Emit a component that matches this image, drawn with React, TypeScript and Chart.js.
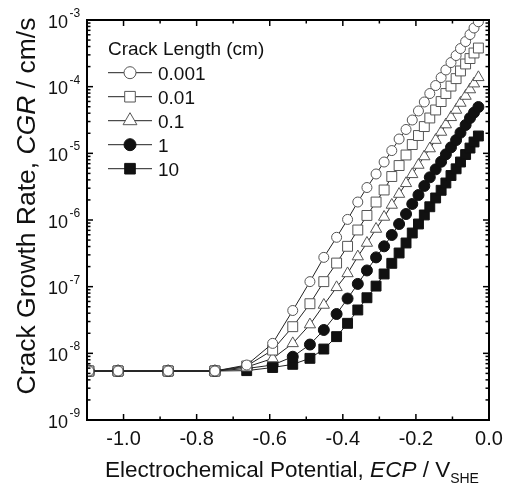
import React, { useEffect, useRef } from 'react';
import { Chart, registerables } from 'chart.js';

Chart.register(...registerables);

// Electrochemical potential (V_SHE) shared by all series
const potentialV = [
  -1.095, -1.015, -0.878, -0.75, -0.663, -0.592, -0.537, -0.49, -0.452, -0.417,
  -0.387, -0.359, -0.334, -0.309, -0.287, -0.266, -0.246, -0.227, -0.21, -0.193,
  -0.177, -0.162, -0.146, -0.131, -0.118, -0.104, -0.09, -0.078, -0.064, -0.052,
  -0.041, -0.029,
];

// Crack growth rate (cm/s) for each crack length
const cgr0001 = [
  5.43e-9, 5.43e-9, 5.43e-9, 5.43e-9, 6.68e-9, 1.41e-8, 4.39e-8, 1.19e-7, 2.75e-7, 5.5e-7,
  1.02e-6, 1.86e-6, 3.07e-6, 4.9e-6, 7.41e-6, 1.1e-5, 1.64e-5, 2.28e-5, 3.16e-5, 4.32e-5,
  5.89e-5, 7.89e-5, 1.04e-4, 1.37e-4, 1.78e-4, 2.3e-4, 2.93e-4, 3.73e-4, 4.75e-4, 6.05e-4,
  7.59e-4, 9.42e-4,
];
const cgr001 = [
  5.43e-9, 5.43e-9, 5.43e-9, 5.43e-9, 6.46e-9, 1.12e-8, 2.51e-8, 5.55e-8, 1.19e-7, 2.26e-7,
  4.03e-7, 7.08e-7, 1.17e-6, 1.86e-6, 2.82e-6, 4.49e-6, 6.56e-6, 9.44e-6, 1.355e-5, 1.85e-5,
  2.52e-5, 3.39e-5, 4.47e-5, 5.98e-5, 7.89e-5, 1.02e-4, 1.32e-4, 1.72e-4, 2.19e-4, 2.64e-4,
  3.2e-4, 3.8e-4,
];
const cgr01 = [
  5.43e-9, 5.43e-9, 5.43e-9, 5.43e-9, 6.24e-9, 8.36e-9, 1.41e-8, 2.7e-8, 5.31e-8, 9.77e-8,
  1.58e-7, 2.83e-7, 4.52e-7, 7.33e-7, 1.11e-6, 1.68e-6, 2.45e-6, 3.55e-6, 4.84e-6, 6.68e-6,
  8.96e-6, 1.18e-5, 1.58e-5, 2.09e-5, 2.7e-5, 3.47e-5, 4.47e-5, 5.69e-5, 7.24e-5, 9.06e-5,
  1.11e-4, 1.38e-4,
];
const cgr1 = [
  5.43e-9, 5.43e-9, 5.43e-9, 5.43e-9, 5.92e-9, 6.68e-9, 8.89e-9, 1.355e-8, 2.24e-8, 3.89e-8,
  6.64e-8, 1.1e-7, 1.75e-7, 2.75e-7, 4.03e-7, 5.96e-7, 8.71e-7, 1.23e-6, 1.74e-6, 2.37e-6,
  3.24e-6, 4.37e-6, 5.75e-6, 7.48e-6, 9.66e-6, 1.23e-5, 1.58e-5, 2.04e-5, 2.66e-5, 3.39e-5,
  4.09e-5, 4.95e-5,
];
const cgr10 = [
  5.43e-9, 5.43e-9, 5.43e-9, 5.43e-9, 5.5e-9, 6.13e-9, 6.84e-9, 8.41e-9, 1.16e-8, 1.78e-8,
  2.82e-8, 4.47e-8, 6.82e-8, 1.02e-7, 1.55e-7, 2.24e-7, 3.2e-7, 4.52e-7, 6.38e-7, 8.71e-7,
  1.19e-6, 1.58e-6, 2.14e-6, 2.79e-6, 3.59e-6, 4.65e-6, 5.86e-6, 7.41e-6, 9.6e-6, 1.2e-5,
  1.48e-5, 1.82e-5,
];

const seriesLabels = ['0.001', '0.01', '0.1', '1', '10'];
const seriesValues = [cgr0001, cgr001, cgr01, cgr1, cgr10];
const legendTitle = 'Crack Length (cm)';

const xMajorTicks = [-1.0, -0.8, -0.6, -0.4, -0.2, 0.0];
const xTickLabels = ['-1.0', '-0.8', '-0.6', '-0.4', '-0.2', '0.0'];
const xMinorTicks = [-0.9, -0.7, -0.5, -0.3, -0.1];
const yDecadeExponents = [-9, -8, -7, -6, -5, -4, -3];

const FONT = '"Liberation Sans", Arial, Helvetica, sans-serif';

type Marker = { style: string; filled: boolean; radius: number };
const markers: Marker[] = [
  { style: 'circle', filled: false, radius: 5 },
  { style: 'rect', filled: false, radius: 7 },
  { style: 'triangle', filled: false, radius: 6.5 },
  { style: 'circle', filled: true, radius: 5.5 },
  { style: 'rect', filled: true, radius: 7 },
];

function drawMarker(ctx: CanvasRenderingContext2D, m: Marker, x: number, y: number, r: number) {
  ctx.save();
  ctx.beginPath();
  if (m.style === 'circle') {
    ctx.arc(x, y, r, 0, Math.PI * 2);
  } else if (m.style === 'rect') {
    const s = Math.SQRT1_2 * r;
    ctx.rect(x - s, y - s, 2 * s, 2 * s);
  } else {
    const w = r * Math.sin((2 * Math.PI) / 3);
    ctx.moveTo(x, y - r);
    ctx.lineTo(x + w, y + r / 2);
    ctx.lineTo(x - w, y + r / 2);
    ctx.closePath();
  }
  ctx.fillStyle = m.filled ? '#111' : '#fff';
  ctx.fill();
  ctx.lineWidth = 1;
  ctx.strokeStyle = m.filled ? '#111' : '#555';
  ctx.stroke();
  ctx.restore();
}

type Part = { text: string; font: string; dy?: number };
function partsWidth(ctx: CanvasRenderingContext2D, parts: Part[]) {
  let w = 0;
  parts.forEach((p) => {
    ctx.font = p.font;
    w += ctx.measureText(p.text).width;
  });
  return w;
}
function drawParts(ctx: CanvasRenderingContext2D, parts: Part[], x: number, y: number) {
  let cx = x;
  parts.forEach((p) => {
    ctx.font = p.font;
    ctx.fillText(p.text, cx, y + (p.dy || 0));
    cx += ctx.measureText(p.text).width;
  });
}

const decorPlugin = {
  id: 'decor',
  afterDatasetsDraw(chart: any) {
    const { ctx, chartArea: a, scales } = chart;
    const xs = scales.x;
    const ys = scales.y;
    ctx.save();
    ctx.strokeStyle = '#000';
    ctx.lineWidth = 1.5;
    const tick = (x1: number, y1: number, x2: number, y2: number) => {
      ctx.beginPath();
      ctx.moveTo(x1, y1);
      ctx.lineTo(x2, y2);
      ctx.stroke();
    };
    xMajorTicks.forEach((v) => {
      const px = xs.getPixelForValue(v);
      tick(px, a.bottom, px, a.bottom - 6);
      tick(px, a.top, px, a.top + 6);
    });
    xMinorTicks.forEach((v) => {
      const px = xs.getPixelForValue(v);
      tick(px, a.bottom, px, a.bottom - 3.5);
      tick(px, a.top, px, a.top + 3.5);
    });
    yDecadeExponents.forEach((e, i) => {
      const py = ys.getPixelForValue(Math.pow(10, e));
      tick(a.left, py, a.left + 6, py);
      tick(a.right, py, a.right - 6, py);
      if (i < yDecadeExponents.length - 1) {
        for (let m = 2; m <= 9; m++) {
          const pm = ys.getPixelForValue(m * Math.pow(10, e));
          tick(a.left, pm, a.left + 3.5, pm);
          tick(a.right, pm, a.right - 3.5, pm);
        }
      }
    });
    ctx.lineWidth = 2;
    ctx.strokeRect(a.left, a.top, a.right - a.left, a.bottom - a.top);
    ctx.restore();
  },
  afterDraw(chart: any) {
    const { ctx, chartArea: a, scales } = chart;
    const xs = scales.x;
    const ys = scales.y;
    ctx.save();
    ctx.fillStyle = '#111';
    // x tick labels
    ctx.font = `20px ${FONT}`;
    ctx.textAlign = 'center';
    ctx.textBaseline = 'alphabetic';
    xMajorTicks.forEach((v, i) => {
      ctx.fillText(xTickLabels[i], xs.getPixelForValue(v), a.bottom + 25);
    });
    // y tick labels 10^n
    ctx.textAlign = 'left';
    yDecadeExponents.forEach((e) => {
      const py = ys.getPixelForValue(Math.pow(10, e));
      ctx.font = `18px ${FONT}`;
      const w10 = ctx.measureText('10').width;
      const xEnd = a.left - 19;
      ctx.fillText('10', xEnd - w10, py + 7.5);
      ctx.font = `12px ${FONT}`;
      ctx.fillText(String(e), xEnd + 1.5, py - 3);
    });
    // x title
    const xParts: Part[] = [
      { text: 'Electrochemical Potential, ', font: `22.5px ${FONT}` },
      { text: 'ECP', font: `italic 22.5px ${FONT}` },
      { text: ' / V', font: `22.5px ${FONT}` },
      { text: 'SHE', font: `14px ${FONT}`, dy: 6 },
    ];
    drawParts(ctx, xParts, 105, 477);
    // y title
    const yParts: Part[] = [
      { text: 'Crack Growth Rate, ', font: `26.5px ${FONT}` },
      { text: 'CGR', font: `italic 26.5px ${FONT}` },
      { text: ' / cm/s', font: `26.5px ${FONT}` },
    ];
    const yw = partsWidth(ctx, yParts);
    ctx.save();
    ctx.translate(35, 206);
    ctx.rotate(-Math.PI / 2);
    drawParts(ctx, yParts, -yw / 2, 0);
    ctx.restore();
    // legend
    ctx.font = `19px ${FONT}`;
    ctx.fillText(legendTitle, a.left + 21, 55);
    seriesLabels.forEach((lab, i) => {
      const cy = 72.7 + i * 24;
      ctx.strokeStyle = '#222';
      ctx.lineWidth = 1;
      ctx.beginPath();
      ctx.moveTo(a.left + 21, cy);
      ctx.lineTo(a.left + 65, cy);
      ctx.stroke();
      const m = markers[i];
      const lr = m.style === 'triangle' ? 8 : m.style === 'rect' ? 7.5 : 6;
      drawMarker(ctx, m, a.left + 43, cy, lr);
      ctx.fillStyle = '#111';
      ctx.font = `19px ${FONT}`;
      ctx.fillText(lab, a.left + 71, cy + 6.8);
    });
    ctx.restore();
  },
};

export default function App() {
  const canvasRef = useRef<HTMLCanvasElement | null>(null);

  useEffect(() => {
    const canvas = canvasRef.current;
    if (!canvas) return;
    const datasets = seriesValues.map((vals, i) => ({
      label: seriesLabels[i],
      data: potentialV.map((x, j) => ({ x, y: vals[j] })),
      borderColor: '#222',
      borderWidth: 1,
      pointStyle: markers[i].style,
      pointRadius: markers[i].radius,
      pointBackgroundColor: markers[i].filled ? '#111' : '#fff',
      pointBorderColor: markers[i].filled ? '#111' : '#555',
      pointBorderWidth: 1,
      tension: 0,
      fill: false,
    }));
    const chart = new Chart(canvas, {
      type: 'line',
      data: { datasets },
      options: {
        animation: false,
        responsive: false,
        devicePixelRatio: 1,
        layout: { padding: { top: 20, right: 20, left: 0, bottom: 0 } },
        plugins: { legend: { display: false }, tooltip: { enabled: false } },
        scales: {
          x: {
            type: 'linear',
            min: -1.1,
            max: 0,
            ticks: { display: false },
            grid: { display: false },
            border: { display: false },
            afterFit: (s: any) => {
              s.height = 64;
            },
          },
          y: {
            type: 'logarithmic',
            min: 1e-9,
            max: 1e-3,
            ticks: { display: false },
            grid: { display: false },
            border: { display: false },
            afterFit: (s: any) => {
              s.width = 87;
            },
          },
        },
      } as any,
      plugins: [decorPlugin],
    });
    return () => chart.destroy();
  }, []);

  return (
    <div style={{ position: 'fixed', left: 0, top: 0, width: 509, height: 484, background: '#fff' }}>
      <canvas ref={canvasRef} width={509} height={484} />
    </div>
  );
}
